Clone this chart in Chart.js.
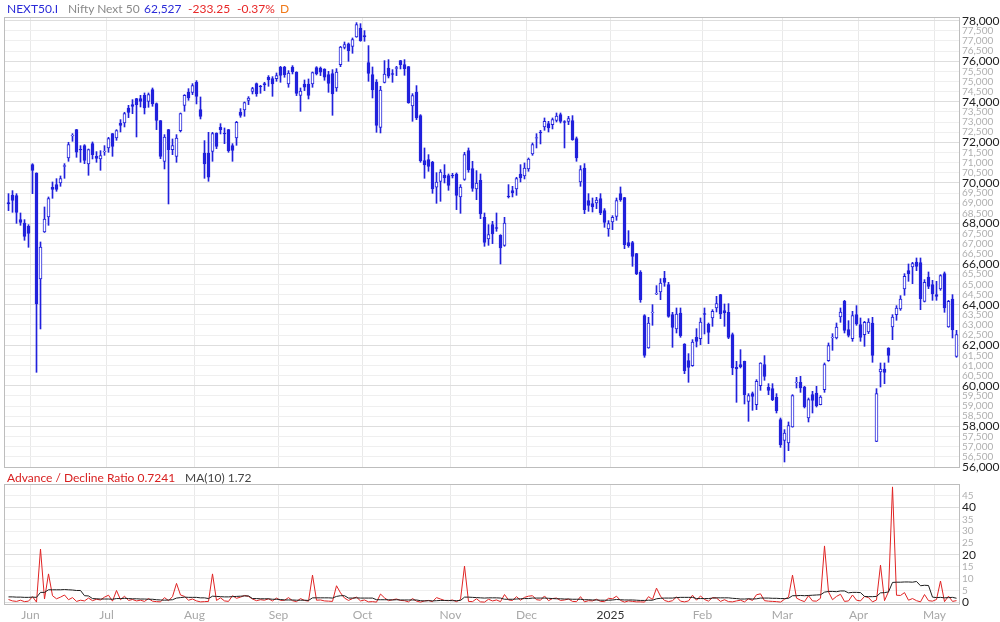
<!DOCTYPE html>
<html>
<head>
<meta charset="utf-8">
<script src="https://cdn.jsdelivr.net/npm/chart.js@4.4.1/dist/chart.umd.min.js"></script>
<style>
  body { margin: 0; background: #fff; font-family: Lato, sans-serif; }
  #wrap { position: relative; width: 1000px; height: 622px; overflow: hidden; }
  canvas { position: absolute; left: 0; }
  #top { top: 0; }
  #bot { top: 470px; }
  .t { position: absolute; font-size: 12px; line-height: 14px; white-space: pre; }
</style>
</head>
<body>
<div id="wrap">
  <canvas id="top" width="1000" height="480"></canvas>
  <canvas id="bot" width="1000" height="152"></canvas>
  <span class="t" style="left:7px;top:2px;color:#2b2bd8">NEXT50.I</span>
  <span class="t" style="left:68px;top:2px;color:#8a8a8a">Nifty Next 50</span>
  <span class="t" style="left:144px;top:2px;color:#2b2bd8">62,527</span>
  <span class="t" style="left:188px;top:2px;color:#e82828">-233.25</span>
  <span class="t" style="left:237px;top:2px;color:#e82828">-0.37%</span>
  <span class="t" style="left:280px;top:2px;color:#f07a1a">D</span>
  <span class="t" style="left:7px;top:471px;color:#d82020">Advance / Decline Ratio 0.7241</span>
  <span class="t" style="left:185px;top:471px;color:#444">MA(10) 1.72</span>
</div>
<script>
// months on the time axis (index of first trading day in each month)
const monthStarts = [6, 25, 47, 68, 89, 111, 130, 151, 174, 194, 213, 232];
const monthLabels = ['Jun', 'Jul', 'Aug', 'Sep', 'Oct', 'Nov', 'Dec', '2025', 'Feb', 'Mar', 'Apr', 'May'];

const priceTicks = [56000, 56500, 57000, 57500, 58000, 58500, 59000, 59500, 60000, 60500, 61000, 61500,
  62000, 62500, 63000, 63500, 64000, 64500, 65000, 65500, 66000, 66500, 67000, 67500, 68000, 68500,
  69000, 69500, 70000, 70500, 71000, 71500, 72000, 72500, 73000, 73500, 74000, 74500, 75000, 75500,
  76000, 76500, 77000, 77500, 78000];
const ratioTicks = [0, 5, 10, 15, 20, 25, 30, 35, 40, 45];

// daily candles, 24 May 2024 .. 9 May 2025
const opens = [
  69029,69408,69375,68192,68027,67863,70902,70492,65267,67583,
  68323,69786,69917,69999,70820,71231,72315,72628,71658,71839,
  70936,71938,71313,71182,71527,71724,72430,72217,72939,72956,
  73696,73860,74155,74155,74320,74024,74599,73909,73072,71067,
  72628,71642,71313,72579,73827,74484,74468,74961,73614,71478,
  71478,71560,72463,72743,72446,72628,71839,72217,73482,73597,
  74073,74517,74895,74780,74895,75208,75141,75141,75700,75716,
  74879,75716,75470,74320,74879,74879,74879,75683,75667,75618,
  75339,75388,74681,75831,76686,76851,76735,77195,77639,77261,
  75930,75339,74977,72743,74961,75667,75388,75651,76029,75831,
  75732,73794,74484,73318,71100,71149,71034,69786,70081,70394,
  70361,70377,70443,69309,70179,71593,70705,69703,70130,68307,
  67239,67945,67797,67419,66926,69358,69621,69703,70443,70344,
  70689,71429,72201,72512,72759,72923,72874,73088,73367,73022,
  73038,73072,72184,70048,70738,69128,68980,69013,69226,68636,
  67732,68076,68356,69473,69276,67058,67058,66516,65596,63460,
  61866,63607,64528,64626,65316,64988,63509,62803,63591,62064,
  61242,60995,62392,62326,63558,63049,63345,63838,64495,63707,
  63624,62523,60913,61044,61209,59237,59615,59073,60010,61044,
  59927,59861,59434,58334,57315,57184,57972,60157,60174,59944,
  58416,59566,59648,59073,59812,61242,62375,62359,63394,64166,
  62770,62326,63509,63016,62523,62655,63098,57266,60683,60831,
  61866,62901,63509,63789,64774,65678,65859,66105,66072,64166,
  65365,64988,64495,64774,65530,62901,64281,61455];
const highs = [
  69473,69621,69473,68520,68192,67945,70950,70500,67091,68816,
  69309,70048,70212,70344,70952,72004,72430,72640,71839,71888,
  71675,72020,71544,71593,71839,72250,72440,72628,73121,73482,
  73827,74106,74170,74320,74435,74435,74681,73942,73080,72381,
  72640,72168,72381,73449,74353,74648,74895,75043,74238,72086,
  72496,72496,72470,72923,72710,72640,71938,73038,73663,73991,
  74254,74715,74928,74813,74961,75290,75240,75421,75749,75749,
  75536,75782,75480,74681,75075,75125,75470,75732,75716,75630,
  75503,75585,75634,76735,76949,76900,77146,77901,77852,77508,
  76768,75716,75092,74764,76029,76078,75585,75749,76040,76078,
  75740,74402,74797,73367,71724,71395,71067,70508,70656,70902,
  70443,70475,70492,69917,71511,71724,71067,70607,70443,68520,
  67945,68109,68520,67452,68307,69917,69835,70279,70902,70985,
  71231,71971,72430,72595,73203,73038,73203,73449,73449,73072,
  73285,73318,72266,70853,70952,69473,69259,69292,69473,68734,
  68143,68389,69259,69802,69290,67649,67124,66530,65678,63509,
  63378,64002,64939,65283,65645,65103,63624,63838,63838,62080,
  61587,62277,62819,63345,63838,63098,63755,64413,64510,64035,
  64051,62605,61209,61784,61220,59615,59697,60305,61140,61488,
  60108,60108,59615,58416,57841,58219,59566,60421,60470,59976,
  59401,59730,59976,59517,61127,62113,62572,63098,63838,64215,
  63213,63673,63953,63345,63180,63312,63378,59861,61127,61127,
  61880,63509,63953,64446,65530,66007,66089,66302,66302,65234,
  65612,65201,65152,65480,65612,64215,64495,62737];
const lows = [
  68636,68553,68010,67912,67173,66828,69473,60667,62803,67560,
  67912,69243,69588,69835,70229,71067,72053,71264,71018,70952,
  70377,71182,71018,70623,71362,71511,71313,72102,72512,72759,
  73219,73416,72266,73745,73400,73729,73778,72628,71198,70689,
  68964,71395,71018,72512,73531,74073,74353,73893,73154,70229,
  70081,71067,71691,72414,71938,71511,71067,71855,73236,73285,
  73860,74386,74271,74418,74550,74764,74271,75010,74961,75208,
  74715,75372,74304,73531,74550,74139,74715,75323,75290,75059,
  74468,73334,74517,75732,76604,75996,76390,77179,76982,76982,
  75010,74188,72496,72463,74928,75174,74961,75290,75618,75306,
  73925,73038,73121,71018,70229,70574,69489,68996,69095,69999,
  69637,70245,68685,68503,70130,70525,69588,69177,68241,66877,
  66926,67009,67616,66007,66877,69259,69309,69391,70048,70196,
  70574,71362,71724,71922,72595,72512,72661,73005,72956,71724,
  72874,72102,71067,69835,68487,68602,68569,68734,68438,67814,
  67370,67699,68159,69095,66762,66828,65891,65480,64117,61406,
  61850,62983,64495,64248,64906,63378,61899,62605,62392,60601,
  60174,60962,61915,62031,62556,62080,62934,63640,63312,62934,
  62326,60552,59188,60880,59106,58251,58794,58827,59779,60272,
  59566,59270,58662,56970,56247,56806,57960,59894,59680,58909,
  58219,58662,58958,59060,59680,61209,61751,62310,63131,62605,
  62408,62195,62983,62195,61948,62572,61160,57250,59944,60108,
  61160,62277,63230,63722,64463,65152,65037,65678,63755,64133,
  64791,64215,64215,64709,63624,62885,62359,61406];
const closes = [
  68964,69144,68553,68060,67370,67517,70623,64035,66844,68225,
  69226,69686,69686,70212,70853,71888,72348,71511,71625,71116,
  71642,71395,71215,71346,71560,72184,71806,72579,72841,73416,
  73482,73778,73860,74024,73696,74353,73893,73088,71313,72266,
  71642,71839,72217,73416,74320,74188,74797,74271,73285,70936,
  70279,72430,71806,72628,72414,71593,71609,72989,73334,73958,
  74188,74648,74386,74747,74830,75075,74879,75290,75306,75339,
  75421,75470,74418,74533,74715,74320,75437,75388,75454,75208,
  74911,74386,75470,76702,76817,76522,77064,77803,77015,77195,
  75404,74582,72841,74582,75372,75257,75355,75683,75831,75634,
  73958,74304,73203,71100,70886,70820,69703,70048,70541,70245,
  69884,70344,69391,69802,71395,70639,69736,69999,68471,67075,
  67452,67485,67765,66795,68027,69325,69506,70212,70245,70738,
  71182,71888,72233,72463,73038,72710,73121,73301,73038,72989,
  73170,72135,71231,70656,68685,68898,68816,69160,68520,68060,
  67994,68307,69128,69177,66959,66910,66384,65530,64248,61504,
  63098,63640,64561,65070,65103,63427,62885,63542,62474,60749,
  60913,62162,62195,63147,63525,62638,63673,64051,63542,63591,
  62392,60880,60831,60929,59566,59517,59484,60223,61127,60470,
  59779,59319,58777,57101,57676,58038,59517,60190,59894,58958,
  59319,59286,59024,59450,61044,61981,62408,62901,63640,62737,
  62490,63460,63049,62392,63131,63147,61504,59615,60831,60667,
  61504,63394,63838,64281,65398,65530,66023,65891,64298,65103,
  64906,64528,64413,65431,63838,64166,62760,62527];

// advance / decline ratio and its 10-day average
const adRatio = [
  1.2,0.6,0.4,0.9,0.3,0.5,2.4,0.1,22.5,1.4,
  12,2.8,1.5,2.2,3.1,1.1,2.0,0.4,0.9,0.6,
  1.8,0.7,1.3,1.0,2.2,3.0,0.5,5.0,1.1,2.6,
  0.8,1.2,0.6,0.9,0.4,1.6,0.5,0.3,0.2,2.0,
  0.7,2.4,8.0,3.1,2.5,0.9,1.4,0.6,0.2,0.3,
  0.4,12.0,0.8,1.9,0.6,0.4,2.8,1.7,2.2,2.9,
  2.5,1.4,0.7,1.1,0.9,1.5,0.6,1.8,0.8,0.9,
  2.0,0.7,0.3,1.6,0.8,0.5,11.5,0.9,1.0,0.6,
  0.5,0.4,7.0,4.0,1.8,0.8,1.6,2.2,0.6,1.0,
  0.2,0.3,0.1,3.5,1.9,0.7,1.1,1.4,0.8,0.7,
  0.2,1.6,0.5,0.1,0.6,0.8,0.3,2.0,1.4,0.8,
  0.7,1.0,0.3,1.2,15.3,0.4,0.3,1.5,0.2,0.1,
  1.3,0.6,1.0,0.3,3.3,1.0,0.8,2.4,0.9,2.1,
  2.6,2.8,1.1,0.9,2.7,0.7,1.6,1.8,0.8,1.0,
  1.4,0.4,0.3,2.4,0.2,0.7,0.6,1.3,0.4,0.3,
  1.7,1.5,2.6,0.8,0.1,0.6,0.4,0.2,0.2,0.1,
  2.4,1.2,6.0,2.6,0.8,0.3,0.7,2.3,0.5,0.2,
  0.6,3.0,0.9,2.7,1.2,0.5,2.0,1.8,0.4,1.1,
  0.3,0.2,0.6,0.9,0.2,1.5,0.8,3.2,3.6,0.7,
  0.5,0.4,0.3,0.1,1.3,2.2,11.5,1.8,0.9,0.3,
  2.8,0.6,0.5,1.7,23.8,4.4,1.1,2.5,3.4,0.4,
  0.6,3.1,0.9,0.6,2.5,2.0,0.2,1.0,15.7,0.7,
  4.5,48.7,3.0,2.9,4.1,0.9,1.6,0.7,0.2,3.3,
  0.7,0.5,1.2,9.0,0.3,2.6,0.4,0.7241];
const adMA = [
  2.3,2.3,2.2,2.2,2.1,2.1,2.2,2.1,4.2,4.2,
  5.3,5.3,5.3,5.3,5.4,5.3,5.2,5.0,5.0,2.8,
  2.7,1.6,1.5,1.4,1.4,1.4,1.3,1.6,1.6,1.7,
  1.6,1.5,1.5,1.4,1.4,1.3,1.3,1.1,1.0,0.9,
  1.0,1.1,1.8,2.0,2.2,2.1,2.1,2.1,1.9,1.9,
  1.6,2.6,2.5,2.4,2.3,2.3,2.4,2.5,2.6,2.7,
  2.7,1.6,1.6,1.5,1.5,1.5,1.3,1.3,1.2,1.0,
  1.0,1.0,0.9,0.9,0.9,0.8,1.9,1.9,1.9,1.9,
  1.9,1.8,2.5,2.8,2.8,1.8,1.8,1.9,1.8,1.8,
  1.8,1.8,1.1,1.1,1.1,1.1,1.0,1.1,1.0,1.0,
  1.0,1.0,1.0,0.7,0.6,0.7,0.6,0.7,0.8,0.8,
  0.8,0.7,0.7,0.8,2.2,2.2,2.1,2.0,1.9,1.8,
  1.9,1.9,1.9,1.8,1.3,1.3,1.3,1.4,1.5,1.6,
  1.6,1.8,1.8,1.8,1.8,1.7,1.6,1.5,1.5,1.4,
  1.4,1.3,1.3,1.3,1.1,1.1,1.0,1.0,0.9,0.9,
  0.9,1.0,1.2,1.1,1.0,1.0,1.0,0.9,0.8,0.8,
  0.9,0.9,1.5,1.7,1.8,1.8,1.8,2.0,2.1,2.1,
  2.1,2.1,1.6,1.6,1.6,1.6,1.8,1.9,1.9,1.9,
  1.9,1.7,1.6,1.4,1.4,1.5,1.4,1.5,1.8,1.8,
  1.8,1.7,1.7,1.6,1.6,1.7,2.8,2.8,2.9,2.8,
  2.9,3.0,3.1,3.2,4.3,4.6,4.6,4.5,4.8,4.8,
  4.0,4.2,4.2,4.1,2.5,2.4,2.4,2.5,4.0,4.1,
  4.4,8.4,8.5,8.5,8.6,8.6,8.5,8.8,7.0,7.2,
  7.1,2.2,2.0,2.1,1.9,2.0,2.1,1.72];

const BLUE = '#2121dc';
const FONT = 'Lato';

const frame = {
  id: 'frame',
  afterDraw(chart) {
    const a = chart.chartArea, ctx = chart.ctx;
    ctx.save();
    ctx.strokeStyle = '#bdbdbd';
    ctx.lineWidth = 1;
    ctx.strokeRect(Math.round(a.left) - 0.5, Math.round(a.top) - 0.5,
      Math.round(a.right - a.left) + 1, Math.round(a.bottom - a.top) + 1);
    ctx.restore();
  }
};

function timeAxis(showLabels) {
  return {
    type: 'linear', min: -0.875, max: 237.625, offset: false,
    afterBuildTicks: s => { s.ticks = monthStarts.map(v => ({ value: v - 0.5 })); },
    afterFit: s => { s.height = showLabels ? 18 : 0; },
    grid: { color: '#e9e9e9', drawTicks: false, offset: false },
    border: { display: false },
    ticks: {
      display: showLabels, autoSkip: false, maxRotation: 0, padding: 4,
      font: { family: FONT, size: 12 },
      color: c => monthLabels[c.index] === '2025' ? '#333' : '#a8a8a8',
      callback: (v, i) => monthLabels[i]
    }
  };
}

const wicks = closes.map((c, i) => ({ x: i, y: [lows[i], highs[i]] }));
const bodies = closes.map((c, i) => ({ x: i, y: [Math.min(opens[i], c), Math.max(opens[i], c)] }));
const bodyFill = closes.map((c, i) => c >= opens[i] ? '#ffffff' : BLUE);

new Chart('top', {
  type: 'bar',
  data: {
    datasets: [
      { data: bodies, backgroundColor: bodyFill, borderColor: BLUE, borderWidth: 1,
        borderSkipped: false, barThickness: 3, grouped: false },
      { data: wicks, backgroundColor: BLUE, borderWidth: 0, barThickness: 1, grouped: false }
    ]
  },
  options: {
    responsive: false, animation: false,
    layout: { padding: { left: 5, right: 0, top: 18, bottom: 13 } },
    plugins: { legend: { display: false }, tooltip: { enabled: false } },
    scales: {
      x: timeAxis(false),
      y: {
        type: 'linear', position: 'right', min: 56000, max: 78130,
        afterBuildTicks: s => { s.ticks = priceTicks.map(v => ({ value: v })); },
        afterFit: s => { s.width = 41; },
        grid: { color: c => c.tick && c.tick.value % 2000 === 0 ? '#dedede' : '#efefef', drawTicks: false },
        border: { display: false },
        ticks: {
          autoSkip: false, padding: 3,
          font: c => ({ family: FONT, size: c.tick && c.tick.value % 2000 === 0 ? 12 : 10 }),
          color: c => c.tick && c.tick.value % 2000 === 0 ? '#222' : '#b0b0b0',
          callback: v => v.toLocaleString('en-US')
        }
      }
    }
  },
  plugins: [frame]
});

new Chart('bot', {
  type: 'line',
  data: {
    datasets: [
      { data: adMA.map((v, i) => ({ x: i, y: v })), borderColor: '#1e1e1e', borderWidth: 1,
        pointRadius: 0, tension: 0 },
      { data: adRatio.map((v, i) => ({ x: i, y: v })), borderColor: '#e02424', borderWidth: 1,
        pointRadius: 0, tension: 0 }
    ]
  },
  options: {
    responsive: false, animation: false,
    layout: { padding: { left: 5, right: 0, top: 15, bottom: 0 } },
    plugins: { legend: { display: false }, tooltip: { enabled: false } },
    scales: {
      x: timeAxis(true),
      y: {
        type: 'linear', position: 'right', min: -0.7, max: 49.5,
        afterBuildTicks: s => { s.ticks = ratioTicks.map(v => ({ value: v })); },
        afterFit: s => { s.width = 41; },
        grid: { color: c => c.tick && c.tick.value % 20 === 0 ? '#dedede' : '#efefef', drawTicks: false },
        border: { display: false },
        ticks: {
          autoSkip: false, padding: 3,
          font: c => ({ family: FONT, size: c.tick && c.tick.value % 20 === 0 ? 12 : 10 }),
          color: c => c.tick && c.tick.value % 20 === 0 ? '#222' : '#b0b0b0'
        }
      }
    }
  },
  plugins: [frame]
});
</script>
</body>
</html>
